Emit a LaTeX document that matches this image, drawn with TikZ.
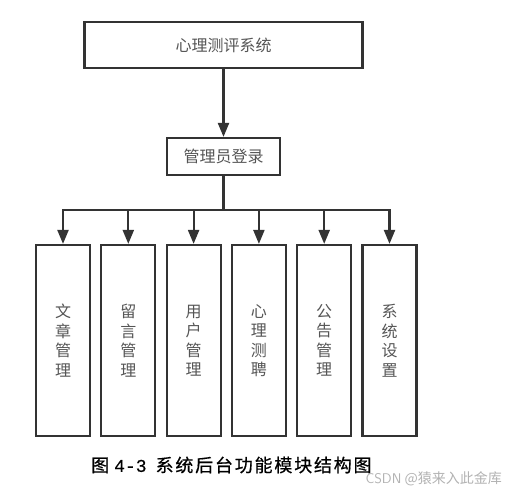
\documentclass[tikz,border=0pt]{standalone}
\usepackage{fontspec}
\newfontfamily\cjk{Noto Sans CJK SC}
\newfontfamily\cjkb[FakeBold=0.6,LetterSpace=10]{Noto Sans CJK SC}
\newfontfamily\monof[FakeBold=0.6]{Liberation Mono}
\usetikzlibrary{arrows.meta}
\definecolor{linegray}{HTML}{333333}
\definecolor{textgray}{HTML}{555555}
\tikzset{
  box/.style={draw=linegray, line width=2.2pt, text=textgray, font=\cjk\fontsize{16pt}{19.5pt}\selectfont, inner sep=0pt},
  modbox/.style={box, minimum width=54pt, minimum height=191pt, align=center},
  arr/.style={draw=linegray, line width=2.2pt, -{Triangle[length=14pt,width=11pt]}},
  link/.style={draw=linegray, line width=2.2pt}
}

\begin{document}
\begin{tikzpicture}[x=1pt,y=-1pt]
\useasboundingbox (0,0) rectangle (518,498);
\node[box, minimum width=278pt, minimum height=46pt] (sys) at (223.5,45) {心理测评系统};
\node[box, minimum width=113pt, minimum height=37pt] (login) at (223.5,156.5) {管理员登录};
\coordinate (bus) at (223.5,210);
\foreach \name/\txt [count=\i from 0] in {art/文\\章\\管\\理, msg/留\\言\\管\\理, user/用\\户\\管\\理, test/心\\理\\测\\聘, note/公\\告\\管\\理, set/系\\统\\设\\置}
  \node[modbox] (\name) at (63+65.3*\i,340.5) {\txt};
\draw[arr] (sys) -- (login);
\draw[link] (login) -- (bus);
\foreach \name in {art,msg,user,test,note,set}
  \draw[arr] (bus) -| (\name);
\node[font=\cjkb\fontsize{18pt}{20pt}\selectfont, text=black, anchor=west, inner sep=0pt] (cap) at (91,465) {图\hspace{5pt}{\monof 4-3}\hspace{9pt}系统后台功能模块结构图};
\node[font=\cjk\fontsize{14pt}{17pt}\selectfont, text=black!30, anchor=east, inner sep=0pt] (mark) at (502,479) {{\sffamily CSDN} @猿来入此金库};
\end{tikzpicture}
\end{document}
